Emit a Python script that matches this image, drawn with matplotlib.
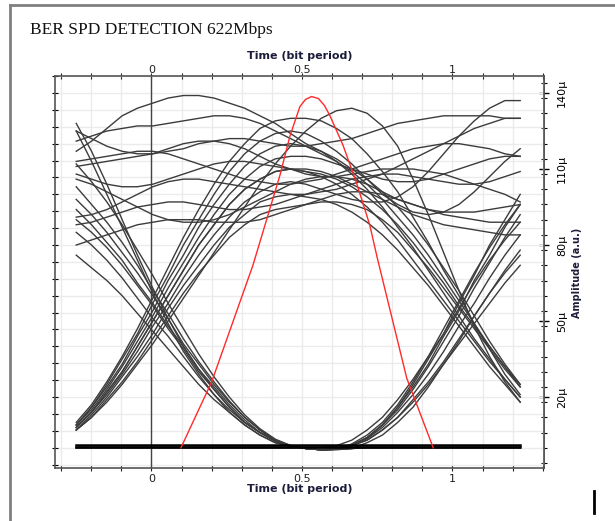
import numpy as np
import matplotlib
matplotlib.use("Agg")
import matplotlib.pyplot as plt
from matplotlib.lines import Line2D
from matplotlib.ticker import MultipleLocator, FixedLocator

# time samples of every trace (bit period)
t = np.linspace(-0.25, 1.225, 30)

# eye traces, amplitude in micro units, grouped by bit pattern
rise_fall = [
    [10, 17, 26, 36, 47, 59, 71, 83, 94, 104, 113, 120, 126, 129, 130, 130, 129, 126, 122, 116, 109, 101, 91, 81, 70, 60, 49, 39, 29, 21],
    [8, 14, 22, 30, 40, 50, 60, 70, 80, 88, 96, 102, 106, 109, 110, 109, 107, 104, 100, 95, 89, 82, 74, 66, 58, 50, 42, 34, 27, 20],
    [9, 16, 24, 33, 44, 54, 66, 76, 87, 96, 104, 111, 116, 119, 120, 119, 117, 114, 110, 106, 101, 95, 88, 80, 71, 62, 52, 42, 33, 25],
    [7, 12, 19, 26, 34, 43, 52, 61, 69, 76, 83, 88, 92, 94, 95, 96, 97, 97, 96, 94, 90, 85, 78, 71, 63, 55, 47, 39, 31, 24],
    [7, 12, 18, 25, 33, 41, 50, 59, 68, 77, 86, 95, 104, 112, 119, 125, 130, 133, 134, 132, 127, 119, 106, 92, 77, 62, 48, 36, 26, 18],
]
rise_high = [
    [9, 15, 23, 32, 42, 52, 63, 73, 83, 92, 100, 106, 111, 114, 115, 115, 114, 112, 110, 108, 106, 105, 105, 106, 108, 110, 112, 114, 115, 115],
    [8, 14, 21, 29, 38, 48, 57, 67, 76, 84, 91, 97, 101, 104, 105, 104, 102, 100, 98, 97, 97, 99, 103, 109, 116, 123, 129, 134, 137, 137],
    [9, 16, 25, 35, 45, 57, 68, 80, 90, 100, 109, 116, 121, 124, 125, 124, 121, 117, 112, 106, 100, 96, 93, 92, 93, 96, 101, 107, 113, 118],
    [7, 13, 20, 28, 36, 45, 55, 64, 72, 80, 87, 92, 97, 99, 100, 100, 101, 102, 104, 106, 108, 111, 114, 117, 120, 123, 126, 128, 130, 130],
    [8, 14, 22, 30, 40, 50, 60, 70, 80, 88, 96, 102, 106, 109, 110, 110, 109, 107, 104, 101, 98, 95, 92, 90, 88, 87, 86, 85, 84, 84],
]
high_fall = [
    [117, 121, 126, 131, 134, 136, 138, 139, 139, 138, 136, 134, 131, 128, 124, 120, 117, 113, 108, 102, 95, 87, 79, 70, 61, 52, 43, 35, 27, 20],
    [121, 123, 125, 126, 127, 127, 128, 129, 130, 131, 131, 130, 128, 125, 122, 119, 116, 113, 109, 104, 98, 91, 84, 76, 67, 58, 49, 40, 32, 24],
    [108, 106, 104, 103, 103, 104, 106, 108, 110, 112, 113, 113, 112, 111, 110, 109, 108, 106, 103, 99, 94, 88, 81, 73, 65, 56, 48, 40, 32, 25],
    [91, 92, 94, 97, 100, 103, 105, 106, 106, 105, 104, 103, 102, 101, 100, 99, 98, 96, 93, 89, 84, 78, 71, 64, 56, 48, 40, 32, 25, 18],
]
high_high = [
    [125, 122, 119, 117, 116, 116, 117, 118, 120, 121, 122, 122, 121, 120, 119, 119, 120, 121, 122, 124, 126, 128, 129, 130, 131, 131, 131, 131, 130, 130],
    [113, 114, 115, 116, 117, 117, 116, 114, 112, 110, 108, 106, 105, 104, 104, 105, 106, 108, 110, 112, 114, 116, 118, 119, 120, 120, 119, 118, 116, 115],
    [111, 112, 113, 114, 115, 116, 118, 120, 121, 121, 120, 118, 115, 112, 110, 108, 107, 107, 108, 109, 110, 110, 110, 109, 108, 106, 104, 102, 100, 97],
    [88, 89, 91, 93, 95, 96, 97, 97, 96, 95, 94, 94, 95, 96, 98, 100, 102, 104, 106, 107, 108, 108, 107, 106, 105, 104, 104, 105, 107, 109],
    [106, 104, 101, 98, 95, 92, 90, 89, 89, 90, 92, 95, 98, 101, 104, 106, 107, 107, 106, 104, 101, 98, 96, 94, 93, 93, 93, 94, 95, 96],
    [80, 82, 84, 86, 88, 89, 90, 90, 90, 89, 89, 89, 90, 92, 94, 96, 98, 100, 101, 101, 100, 98, 96, 94, 92, 91, 90, 89, 89, 89],
]
fall_rise = [
    [112, 105, 97, 88, 78, 68, 57, 47, 37, 28, 20, 13, 7.5, 3.4, 0.9, -0.3, -0.8, -0.6, 1, 4, 9, 15, 23, 32, 42, 52, 63, 73, 83, 92],
    [94, 88, 81, 74, 65, 57, 48, 40, 31, 24, 17, 11, 6, 3, 0.7, -0.3, -0.8, -0.6, 0.9, 3.6, 8, 14, 21, 29, 38, 48, 57, 67, 76, 84],
    [103, 96, 89, 81, 72, 62, 53, 43, 34, 26, 18.5, 12, 7, 3, 0.8, -0.3, -0.8, -0.6, 1, 4, 9, 16, 25, 35, 45, 57, 68, 80, 90, 100],
    [85, 80, 74, 67, 59, 51, 44, 36, 28, 21, 15, 10, 6, 2.6, 0.7, -0.3, -0.8, -0.6, 0.8, 3, 7, 12, 19, 26, 34, 43, 52, 61, 69, 76],
    [125, 113, 100, 87, 74, 61, 49, 38, 29, 21, 14, 9, 5, 2, 0.5, -0.3, -0.8, -0.5, 1.5, 5, 10, 17, 26, 36, 47, 58, 69, 79, 88, 96],
    [76, 71, 66, 60, 53, 46, 39, 32, 25, 19, 14, 9, 5, 2, 0.6, -0.3, -0.8, -0.8, -0.3, 2, 5, 10, 16, 24, 33, 42, 52, 61, 70, 78],
]
fall_low = [
    [128, 117, 104, 90, 76, 63, 51, 40, 31, 23, 16, 10, 6, 2.5, 0.6, -0.3, -0.8, -0.6, -0.3, 0, 0, 0, 0, 0, 0, 0, 0, 0, 0, 0],
    [98, 92, 85, 77, 69, 60, 51, 41, 33, 25, 18, 12, 7, 3, 0.8, -0.3, -0.8, -0.6, -0.3, 0, 0, 0, 0, 0, 0, 0, 0, 0, 0, 0],
    [90, 85, 79, 72, 64, 56, 47, 39, 30, 23, 16, 10, 6, 3, 0.7, -0.3, -0.8, -0.6, -0.3, 0, 0, 0, 0, 0, 0, 0, 0, 0, 0, 0],
]
low_rise = [
    [0, 0, 0, 0, 0, 0, 0, 0, 0, 0, 0, 0, 0, 0, 0, 0, 0, 0.8, 3, 7, 12, 19, 27, 36, 45, 55, 65, 74, 82, 89],
    [0, 0, 0, 0, 0, 0, 0, 0, 0, 0, 0, 0, 0, 0, 0, 0, 0, 0, 0.8, 3, 7, 12, 18, 25, 33, 41, 49, 57, 65, 72],
    [0, 0, 0, 0, 0, 0, 0, 0, 0, 0, 0, 0, 0, 0, 0, 0, 0, 0, 1, 4, 9, 16, 24, 33, 44, 54, 66, 76, 87, 96],
]
baseline_levels = [1.0, 0.3]

# red decision curve
red_t = [0.098, 0.2, 0.337, 0.427, 0.46, 0.493, 0.512, 0.532, 0.555, 0.575, 0.593, 0.636, 0.68, 0.725, 0.75, 0.848, 0.936]
red_v = [0, 26, 72, 107.6, 123, 134.6, 137.5, 138.6, 137.8, 135, 131, 119.5, 105, 88, 75, 27.5, 0]

right_ticks = [20, 50, 80, 110, 140]
time_ticks = [0, 0.5, 1]
time_labels = ["0", "0.5", "1"]

fig = plt.figure(figsize=(6.15, 5.21), dpi=100)
ax = fig.add_axes([0.0894, 0.1017, 0.7951, 0.7524])

ax.set_xlim(-0.3206, 1.304)
ax.set_ylim(-8.0, 146.7)

trace_color = "#3c3c3c"
for group in [rise_fall, rise_high, high_fall, high_high, fall_rise, fall_low, low_rise]:
    for tr in group:
        ax.plot(t, tr, color=trace_color, lw=1.0, zorder=3)
for lv in baseline_levels:
    ax.plot([t[0], t[-1]], [lv, lv], color="black", lw=1.8, zorder=3)

ax.plot(red_t, red_v, color="#ff2a2a", lw=1.0, zorder=4)

# grid and axis line at t=0
ax.axvline(0, color="#444444", lw=1.0, zorder=2)
ax.xaxis.set_major_locator(FixedLocator(time_ticks))
ax.xaxis.set_minor_locator(MultipleLocator(0.1))
ax.yaxis.set_major_locator(MultipleLocator(20 / 3))
ax.grid(True, which="both", axis="x", color="#ebebeb", lw=1.0, zorder=0)
ax.grid(True, which="major", axis="y", color="#ebebeb", lw=1.0, zorder=0)
ax.set_axisbelow(True)

ax.set_xticklabels(time_labels)
ax.tick_params(axis="x", which="both", top=True, bottom=True, labeltop=False,
               labelbottom=True, direction="inout", length=4, width=0.8,
               labelsize=8, pad=2, colors="#222222")
ax.tick_params(axis="y", which="both", left=True, right=False, labelleft=False,
               direction="inout", length=4, width=0.8)
for sp in ax.spines.values():
    sp.set_color("#555555")
    sp.set_linewidth(1.2)

ax.set_xlabel("Time (bit period)", fontsize=8, fontweight="bold", color="#1c1c3a", labelpad=0)
secx = ax.secondary_xaxis("top")
secx.set_xticks(time_ticks, time_labels)
secx.tick_params(length=0, pad=1, labelsize=8, colors="#222222")
secx.set_xlabel("Time (bit period)", fontsize=8, fontweight="bold", color="#1c1c3a", labelpad=4)
secx.spines["top"].set_visible(False)

secy = ax.secondary_yaxis("right")
secy.yaxis.set_major_locator(FixedLocator(right_ticks))
secy.yaxis.set_minor_locator(MultipleLocator(6))
secy.set_yticklabels([f"{v}µ" for v in right_ticks], rotation=90, va="center")
secy.tick_params(which="major", direction="inout", length=7, width=1.0, labelsize=8, pad=6)
secy.tick_params(which="minor", direction="inout", length=4, width=0.8)
secy.spines["right"].set_color("#555555")
secy.spines["right"].set_linewidth(1.2)

fig.text(0.938, 0.477, "Amplitude (a.u.)", rotation=90, ha="center", va="center",
         fontsize=7, fontweight="bold", color="#1c1c3a")

fig.text(0.049, 0.942, "BER SPD DETECTION 622Mbps", fontsize=12.5,
         family="Liberation Serif", color="#111111", ha="left", va="center")

# outer frame and cursor mark
fig.add_artist(Line2D([0.016, 0.016], [0, 0.99], transform=fig.transFigure, color="#808080", lw=2))
fig.add_artist(Line2D([0.016, 1.0], [0.99, 0.99], transform=fig.transFigure, color="#808080", lw=2))
fig.add_artist(Line2D([0.966, 0.966], [0.016, 0.057], transform=fig.transFigure, color="black", lw=2))

fig.savefig("out.png", dpi=100)
